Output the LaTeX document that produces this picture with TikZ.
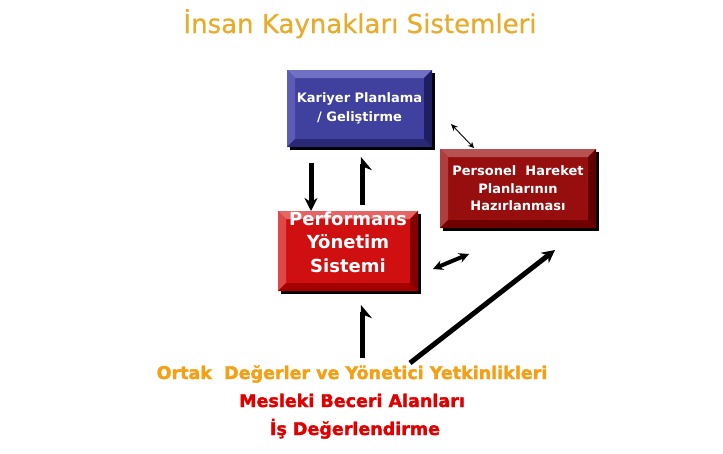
\documentclass[tikz,border=0pt]{standalone}
\usepackage{fontspec}
\setmainfont{DejaVu Sans}
\newfontfamily\heavyfont{DejaVu Sans}[BoldFeatures={FakeBold=1.8}]
\newfontfamily\titlefont{DejaVu Sans}[UprightFeatures={FakeBold=0.6}]
\usetikzlibrary{arrows.meta,calc}
\definecolor{titlecol}{RGB}{232,172,45}
\definecolor{orangetxt}{RGB}{245,160,20}
\definecolor{redtxt}{RGB}{225,0,0}
\definecolor{kface}{RGB}{64,64,158}
\definecolor{ktop}{RGB}{112,112,196}
\definecolor{kleft}{RGB}{92,92,182}
\definecolor{kbottom}{RGB}{40,40,118}
\definecolor{kright}{RGB}{30,30,96}
\definecolor{pface}{RGB}{208,16,16}
\definecolor{ptop}{RGB}{230,100,100}
\definecolor{pleft}{RGB}{224,72,72}
\definecolor{pbottom}{RGB}{165,0,0}
\definecolor{pright}{RGB}{132,0,0}
\definecolor{hface}{RGB}{150,14,14}
\definecolor{htop}{RGB}{182,82,82}
\definecolor{hleft}{RGB}{175,62,62}
\definecolor{hbottom}{RGB}{112,0,0}
\definecolor{hright}{RGB}{96,0,0}
\tikzset{
  bevel/.style n args={4}{path picture={
    \path (path picture bounding box.north west) coordinate (bnw)
          (path picture bounding box.north east) coordinate (bne)
          (path picture bounding box.south west) coordinate (bsw)
          (path picture bounding box.south east) coordinate (bse);
    \fill[#1] (bnw) -- (bne) -- ([xshift=-8pt,yshift=-8pt]bne) -- ([xshift=8pt,yshift=-8pt]bnw) -- cycle;
    \fill[#2] (bnw) -- ([xshift=8pt,yshift=-8pt]bnw) -- ([xshift=8pt,yshift=8pt]bsw) -- (bsw) -- cycle;
    \fill[#3] (bse) -- (bsw) -- ([xshift=8pt,yshift=8pt]bsw) -- ([xshift=-8pt,yshift=8pt]bse) -- cycle;
    \fill[#4] (bse) -- (bne) -- ([xshift=-8pt,yshift=-8pt]bne) -- ([xshift=-8pt,yshift=8pt]bse) -- cycle;
  }},
  box/.style={rectangle, inner sep=0pt, outer sep=0pt, align=center, text=white,
    preaction={fill=black, transform canvas={xshift=3pt,yshift=-3pt}}},
  fat/.style={line width=5pt, -{Stealth[length=13pt,width=13pt]}},
  fatharp/.style={line width=5pt, -{Stealth[harpoon,swap,length=12pt,width=20pt]}},
  thinboth/.style={line width=0.9pt, {Stealth[length=7pt,width=6pt]}-{Stealth[length=6pt,width=6pt]}},
  midboth/.style={line width=4pt, {Stealth[length=10pt,width=10pt]}-{Stealth[length=10pt,width=10pt]}},
  bottomtxt/.style={font=\fontsize{17.5}{21}\selectfont\heavyfont\bfseries, anchor=base}
}
\begin{document}
\begin{tikzpicture}[x=1pt,y=-1pt]
\useasboundingbox (0,0) rectangle (723,453);
\fill[white] (0,0) rectangle (723,453);

\node[font=\fontsize{26}{30}\selectfont\titlefont, text=titlecol, anchor=base] (title) at (360,33) {İnsan Kaynakları Sistemleri};

\node[box, fill=kface, bevel={ktop}{kleft}{kbottom}{kright}, minimum width=145pt, minimum height=77pt,
  font=\fontsize{13}{19}\selectfont\bfseries] (kar) at (359.5,108.5) {Kariyer Planlama\\/ Geliştirme};

\node[box, fill=pface, bevel={ptop}{pleft}{pbottom}{pright}, minimum width=140pt, minimum height=80pt,
  font=\fontsize{18}{24}\selectfont\bfseries] (perf) at (348,251)
  {\raisebox{7pt}[\height][\depth]{\begin{tabular}{@{}c@{}}Performans\\[-0.5pt]Yönetim\\[-0.5pt]Sistemi\end{tabular}}};

\node[box, fill=hface, bevel={htop}{hleft}{hbottom}{hright}, minimum width=156pt, minimum height=79pt,
  font=\fontsize{13}{17.5}\selectfont\bfseries] (pers) at (518,188.5) {Personel\ \ Hareket\\Planlarının\\Hazırlanması};

\node[bottomtxt, text=orangetxt] (ortak) at (352,379) {Ortak\ \ Değerler ve Yönetici Yetkinlikleri};
\node[bottomtxt, text=redtxt] (mesleki) at (352,407) {Mesleki Beceri Alanları};
\node[bottomtxt, text=redtxt] (isd) at (355,435) {İş Değerlendirme};

% arrows
\coordinate (a0) at (311,163);
\draw[fat] (a0) -- (a0 |- perf.north);
\coordinate (b0) at (362,205);
\draw[fatharp, shorten >=10pt] (b0) -- (b0 |- kar.south);
\coordinate (f0) at (362,358);
\draw[fatharp, shorten >=14pt] (f0) -- (f0 |- perf.south);
\coordinate (c0) at (451,124);
\coordinate (c1) at (474,148);
\draw[thinboth] (c0) -- (c1);
\coordinate (d0) at (433,269);
\coordinate (d1) at (469,254);
\draw[midboth] (d0) -- (d1);
\coordinate (e0) at (410,363);
\coordinate (e1) at (555,250);
\draw[fat] (e0) -- (e1);
\end{tikzpicture}
\end{document}
